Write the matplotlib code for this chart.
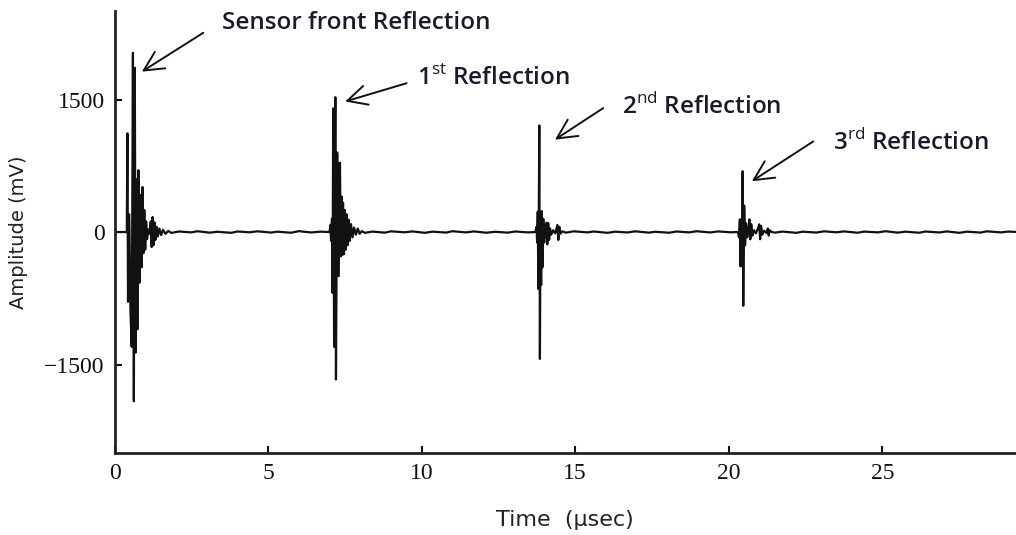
import matplotlib.pyplot as plt
import numpy as np

# Senal ultrasonica: reflexiones del frente del sensor y ecos sucesivos
# (vertices leidos a ojo sobre la figura, tiempo en us, amplitud en mV)

# Reflexion del frente del sensor
front_t = [0.00, 0.40, 0.42, 0.44, 0.48, 0.52, 0.56, 0.60, 0.63, 0.66, 0.69,
           0.72, 0.75, 0.78, 0.81, 0.85, 0.88, 0.91, 0.94, 0.97, 1.00, 1.03, 1.06,
           1.10, 1.14, 1.18, 1.21, 1.24, 1.27, 1.30, 1.33, 1.37, 1.41, 1.46, 1.52,
           1.58, 1.66, 1.75]
front_a = [0, 0, 1117, -790, 200, -900, -1300, 2030, -1917, 1860, -1365,
           600, -1100, 700, -575, 420, -400, 510, -240, 250, -200, 120, -80,
           30, -20, 120, -170, 170, -150, 110, -90, 60, -50, 40, -35,
           25, -20, 12]

# Primera reflexion
echo1_t = [7.00, 7.03, 7.05, 7.08, 7.10, 7.12, 7.15, 7.19, 7.21, 7.25, 7.30,
           7.34, 7.37, 7.40, 7.42, 7.44, 7.47, 7.50, 7.53, 7.56, 7.59, 7.62,
           7.66, 7.70, 7.75, 7.80, 7.86, 7.92, 7.98, 8.05]
echo1_a = [0, 80, -100, 150, -690, 1400, -1300, 1526, -1670, 900, -500,
           785, -275, 400, -260, 333, -250, 250, -200, 200, -150, 140,
           -100, 90, -60, 50, -30, 40, -20, 10]

# Segunda reflexion
echo2_t = [13.70, 13.74, 13.76, 13.78, 13.80, 13.83, 13.85, 13.87, 13.89, 13.91,
           13.93, 13.96, 13.99, 14.02, 14.05, 14.07, 14.09, 14.12, 14.15, 14.18,
           14.22, 14.28, 14.35, 14.42, 14.45, 14.48, 14.52, 14.58]
echo2_a = [0, 60, -120, 230, -646, 1207, -1437, 200, -600, 237,
           -400, 150, -120, 80, -60, 106, -139, 100, -90, 40,
           -30, 20, -15, 80, -90, 60, -20, 8]

# Tercera reflexion
echo3_t = [20.30, 20.33, 20.36, 20.38, 20.41, 20.43, 20.45, 20.47, 20.50, 20.53,
           20.56, 20.60, 20.64, 20.67, 20.70, 20.73, 20.77, 20.82, 20.88, 20.95,
           20.99, 21.02, 21.05, 21.09, 21.15, 21.23, 21.27, 21.30, 21.33, 21.40]
echo3_a = [0, -60, 143, -389, 143, -380, 688, -835, 300, -150,
           100, -60, 40, 143, -82, 90, -40, 20, -15, 40,
           87, -82, 70, -30, 15, -10, 40, -40, 20, 0]

# Ruido de linea base entre ecos
noise_t = [1.85, 2.1, 2.5, 2.7, 3.1, 3.35, 3.8, 4.0, 4.4, 4.65, 5.1, 5.3, 5.75, 6.0, 6.4, 6.7,
           8.15, 8.4, 8.8, 9.0, 9.45, 9.7, 10.1, 10.35, 10.8, 11.0, 11.45, 11.7, 12.1,
           12.4, 12.8, 13.05, 13.45,
           14.7, 14.95, 15.4, 15.6, 16.05, 16.3, 16.7, 16.95, 17.4, 17.6, 18.05, 18.3,
           18.7, 18.95, 19.4, 19.65, 20.05,
           21.5, 21.75, 22.2, 22.4, 22.85, 23.1, 23.5, 23.75, 24.2, 24.4, 24.85, 25.1,
           25.5, 25.75, 26.2, 26.4, 26.85, 27.1, 27.5, 27.75, 28.2, 28.4, 28.85, 29.1, 29.6]
noise_a = [-10, 6, -4, 9, -7, 3, -9, 6, -3, 8, -6, 4, -8, 10, -5, 4,
           -9, 5, -7, 8, -3, 7, -9, 4, -6, 9, -4, 7, -8,
           3, -7, 6, -4,
           -7, 8, -4, 6, -9, 4, -5, 8, -7, 3, -8, 6,
           -4, 9, -5, 7, -3,
           -7, 5, -9, 4, -6, 8, -3, 7, -8, 5, -4, 9,
           -7, 4, -8, 6, -5, 7, -9, 4, -6, 8, -4, 5, -3]

xticks = [0, 5, 10, 15, 20, 25]
yticks = [-1500, 0, 1500]

t = np.array(front_t + echo1_t + echo2_t + echo3_t + noise_t)
a = np.array(front_a + echo1_a + echo2_a + echo3_a + noise_a)
orden = np.argsort(t, kind="stable")
t = t[orden]
a = a[orden]

plt.rcParams["mathtext.fontset"] = "custom"
plt.rcParams["mathtext.rm"] = "Open Sans"

fig = plt.figure(figsize=(10.16, 5.35), dpi=100)
ax = fig.add_axes([0.1127, 0.1536, 0.8873, 0.8254])
ax.plot(t, a, color="#111111", lw=1.6)

ax.set_xlim(0, 29.35)
ax.set_ylim(-2500, 2500)
ax.set_xticks(xticks)
ax.set_yticks(yticks)
ax.set_yticklabels(["\u22121500", "0", "1500"])
for s in ["top", "right"]:
    ax.spines[s].set_visible(False)
for s in ["left", "bottom"]:
    ax.spines[s].set_linewidth(2)
    ax.spines[s].set_color("#222222")
ax.tick_params(direction="in", length=5, width=1.5, labelsize=17, colors="#111111")
ax.tick_params(axis="x", pad=7)
ax.tick_params(axis="y", pad=7)
for lab in ax.get_xticklabels() + ax.get_yticklabels():
    lab.set_family("Liberation Serif")

ax.set_xlabel("Time  (\u00b5sec)", fontsize=16, labelpad=19, family="DejaVu Sans", color="#222222")
ax.set_ylabel("Amplitude (mV)", fontsize=14, labelpad=12, family="DejaVu Sans", color="#222222")

# Flechas y etiquetas de cada reflexion
flecha = dict(arrowstyle="->,head_length=0.7,head_width=0.35", lw=1.4, color="#111111",
              shrinkA=0, shrinkB=0, mutation_scale=20)
etiquetas = [("Sensor front Reflection", (3.49, 2365), (2.89, 2256), (0.89, 1816)),
             ("1$^{\\rm st}$ Reflection", (9.84, 1745), (9.51, 1685), (7.51, 1478)),
             ("2$^{\\rm nd}$ Reflection", (16.51, 1421), (15.91, 1403), (14.34, 1046)),
             ("3$^{\\rm rd}$ Reflection", (23.38, 1008), (22.75, 1026), (20.75, 575))]
for txt, pos, cola, punta in etiquetas:
    ax.annotate("", xy=punta, xytext=cola, arrowprops=flecha)
    ax.text(pos[0], pos[1], txt, fontsize=17.5, family=["Open Sans", "DejaVu Sans"],
            fontweight="semibold", color="#1a1a2a", va="center", ha="left")

fig.savefig("out.png", dpi=100)
